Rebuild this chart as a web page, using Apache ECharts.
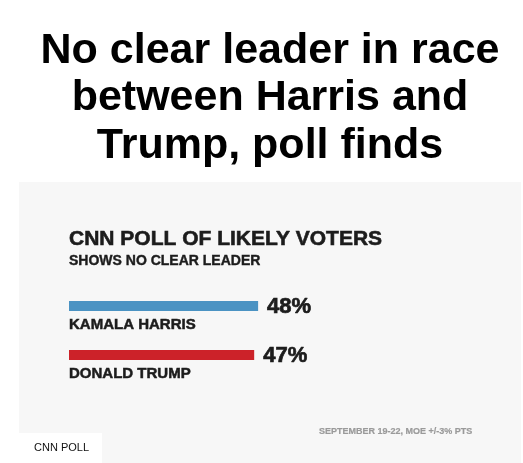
<!DOCTYPE html>
<html>
<head>
<meta charset="utf-8">
<script src="https://cdn.jsdelivr.net/npm/echarts@6/dist/echarts.min.js"></script>
<style>
html,body{margin:0;padding:0;background:#fff;}
#chart{width:523px;height:463px;}
</style>
</head>
<body>
<div id="chart"></div>
<script>
var headline = "No clear leader in race\nbetween Harris and\nTrump, poll finds";
var chartTitle = "CNN POLL OF LIKELY VOTERS";
var chartSubtitle = "SHOWS NO CLEAR LEADER";
var candidates = ["KAMALA HARRIS", "DONALD TRUMP"];
var shares = [48, 47];
var barColors = ["#4b93c3", "#cc2229"];
var footnote = "SEPTEMBER 19-22, MOE +/-3% PTS";
var sourceText = "CNN POLL";

var chart = echarts.init(document.getElementById('chart'), null, {renderer: 'canvas'});
var font = 'Liberation Sans, Arial, Helvetica, sans-serif';
var ink = '#1c1c1c';

chart.setOption({
  backgroundColor: '#ffffff',
  animation: false,
  graphic: [
    {type: 'rect', shape: {x: 19, y: 182, width: 502, height: 281}, style: {fill: '#f7f7f7'}, z: -10},
    {type: 'rect', shape: {x: 19, y: 433, width: 83, height: 30}, style: {fill: '#ffffff'}, z: -9}
  ],
  title: [
    {text: headline, left: 270, top: 27, textAlign: 'center', padding: 0,
     textStyle: {fontFamily: font, fontSize: 43, fontWeight: 'bold', color: '#000', lineHeight: 47.5}},
    {text: chartTitle, left: 69, top: 229, padding: 0,
     textStyle: {fontFamily: font, fontSize: 21, fontWeight: 'bold', color: ink,
       textBorderColor: ink, textBorderWidth: 0.6}},
    {text: chartSubtitle, left: 69, top: 254, padding: 0,
     textStyle: {fontFamily: font, fontSize: 14, fontWeight: 'bold', color: ink,
       textBorderColor: ink, textBorderWidth: 0.4}},
    {text: footnote, left: 319, top: 427, padding: 0,
     textStyle: {fontFamily: font, fontSize: 9, fontWeight: 'bold', color: '#9a9a9a',
       textBorderColor: '#9a9a9a', textBorderWidth: 0.2}},
    {text: sourceText, left: 34, top: 442, padding: 0,
     textStyle: {fontFamily: font, fontSize: 11, fontWeight: 'normal', color: '#111'}}
  ],
  grid: {left: 69, width: 394, top: 281.5, height: 98, containLabel: false},
  xAxis: {type: 'value', min: 0, max: 100, show: false},
  yAxis: {
    type: 'category', data: candidates, inverse: true,
    axisLine: {show: false}, axisTick: {show: false}, splitLine: {show: false},
    axisLabel: {inside: true, margin: 0, verticalAlign: 'top', padding: [11, 0, 0, 0],
      fontFamily: font, fontSize: 15, fontWeight: 'bold', color: ink,
      textBorderColor: ink, textBorderWidth: 0.5}
  },
  series: [{
    type: 'bar', barWidth: 10,
    data: shares.map(function (v, i) { return {value: v, itemStyle: {color: barColors[i]}}; }),
    label: {show: true, position: 'right', distance: 9, offset: [0, 1],
      formatter: function (p) { return p.value + '%'; },
      fontFamily: font, fontSize: 22, fontWeight: 'bold', color: ink,
      textBorderColor: ink, textBorderWidth: 0.7}
  }]
});
</script>
</body>
</html>
